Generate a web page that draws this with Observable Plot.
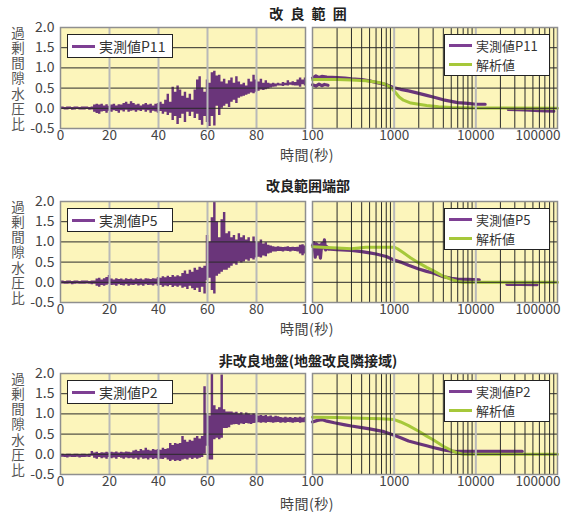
<!DOCTYPE html>
<html><head><meta charset="utf-8">
<script src="https://cdn.jsdelivr.net/npm/d3@7"></script>
<script src="https://cdn.jsdelivr.net/npm/@observablehq/plot@0.6"></script>
<style>
body{margin:0;background:#fff;}
#root{position:relative;width:575px;height:512px;overflow:hidden;font-family:"Noto Sans CJK JP",sans-serif;}
.pl{position:absolute;}
.title{position:absolute;font-weight:700;font-size:14px;color:#222;white-space:nowrap;transform:translateX(-50%);line-height:14px;}
.xlab{position:absolute;font-size:14px;color:#444;white-space:nowrap;transform:translateX(-50%);line-height:14px;letter-spacing:0.5px;}
.ylab{position:absolute;writing-mode:vertical-rl;text-orientation:upright;font-size:13.5px;letter-spacing:1.7px;color:#555;line-height:14px;}
.legend{position:absolute;background:#fff;border:1.5px solid #222;box-sizing:border-box;padding:0 4px;}
.legrow{display:flex;align-items:center;font-size:13px;line-height:15px;color:#333;white-space:nowrap;}
.sw{display:inline-block;width:23px;height:3px;margin-right:4px;}
</style></head>
<body><div id="root"></div>
<script>
// ---------- data ----------
const secs = d3.range(0, 101); // 0..100 s (time axis of left panels)
const lo1 = [-0.04,-0.03,-0.04,-0.04,-0.03,-0.05,-0.04,-0.03,-0.04,-0.04,
 -0.04,-0.03,-0.05,-0.04,-0.10,-0.13,-0.15,-0.09,-0.08,-0.12,
 -0.07,-0.10,-0.06,-0.08,-0.12,-0.06,-0.09,-0.05,-0.10,-0.07,
 -0.06,-0.10,-0.06,-0.08,-0.05,-0.10,-0.06,-0.12,-0.07,-0.09,
 -0.12,-0.08,-0.15,-0.10,-0.18,-0.12,-0.30,-0.20,-0.40,-0.25,
 -0.15,-0.35,-0.10,-0.20,-0.10,-0.25,-0.15,-0.30,-0.42,-0.20,
 -0.35,-0.45,-0.20,-0.44,0.05,-0.18,0.00,0.05,0.10,0.02,
 0.15,0.20,0.12,0.25,0.28,0.30,0.32,0.35,0.38,0.36,
 0.40,0.42,0.45,0.44,0.46,0.48,0.50,0.52,0.53,0.55,
 0.55,0.54,0.56,0.55,0.57,0.56,0.55,0.55,0.52,0.58,0.55];
const hi1 = [0.03,0.03,0.02,0.03,0.03,0.02,0.03,0.03,0.02,0.03,
 0.03,0.03,0.02,0.03,0.08,0.10,0.08,0.10,0.06,0.09,
 0.05,0.08,0.10,0.06,0.09,0.08,0.12,0.15,0.10,0.16,
 0.12,0.08,0.10,0.06,0.09,0.12,0.08,0.10,0.06,0.10,
 0.12,0.15,0.10,0.20,0.35,0.15,0.52,0.40,0.55,0.45,
 0.30,0.40,0.25,0.35,0.20,0.45,0.70,0.78,0.50,0.40,
 0.70,0.62,0.88,0.92,0.80,0.82,0.65,0.72,0.60,0.68,
 0.75,0.62,0.78,0.65,0.58,0.62,0.55,0.72,0.65,0.82,
 0.70,0.65,0.72,0.62,0.68,0.62,0.60,0.62,0.60,0.62,
 0.60,0.64,0.62,0.68,0.63,0.66,0.64,0.70,0.75,0.70,0.75];
const lo2 = [-0.05,-0.04,-0.05,-0.05,-0.04,-0.06,-0.05,-0.04,-0.05,-0.05,
 -0.05,-0.04,-0.05,-0.06,-0.05,-0.10,-0.12,-0.08,-0.10,-0.07,
 -0.05,-0.08,-0.07,-0.10,-0.06,-0.08,-0.09,-0.06,-0.10,-0.07,
 -0.08,-0.06,-0.09,-0.07,-0.10,-0.06,-0.08,-0.07,-0.09,-0.06,
 -0.10,-0.08,-0.12,-0.09,-0.11,-0.08,-0.13,-0.10,-0.12,-0.09,
 -0.15,-0.12,-0.18,-0.10,-0.16,-0.20,-0.15,-0.25,-0.12,-0.29,
 0.04,0.10,-0.20,-0.29,0.15,0.20,0.25,0.30,0.30,0.35,
 0.40,0.45,0.42,0.50,0.48,0.50,0.55,0.52,0.58,0.55,
 0.60,0.62,0.60,0.65,0.63,0.70,0.72,0.75,0.75,0.76,
 0.76,0.75,0.77,0.76,0.75,0.77,0.76,0.75,0.70,0.66,0.70];
const hi2 = [0.03,0.03,0.02,0.03,0.03,0.02,0.03,0.03,0.02,0.03,
 0.03,0.03,0.02,0.03,0.03,0.08,0.10,0.06,0.09,0.12,
 0.17,0.08,0.06,0.09,0.07,0.08,0.06,0.09,0.07,0.08,
 0.06,0.09,0.07,0.08,0.06,0.09,0.08,0.07,0.09,0.08,
 0.12,0.10,0.14,0.11,0.15,0.12,0.17,0.13,0.16,0.14,
 0.22,0.28,0.20,0.30,0.25,0.35,0.30,0.37,0.35,0.40,
 1.16,1.00,1.60,2.00,1.50,1.10,1.55,1.73,1.20,1.25,
 1.10,1.16,1.05,1.20,1.10,1.15,1.05,1.10,1.00,1.12,
 1.00,0.98,1.05,0.95,0.98,0.92,0.90,0.88,0.87,0.88,
 0.87,0.86,0.87,0.88,0.86,0.87,0.86,0.87,0.92,0.93,0.90];
const lo3 = [-0.08,-0.07,-0.08,-0.09,-0.07,-0.08,-0.08,-0.07,-0.09,-0.08,
 -0.08,-0.07,-0.08,-0.05,-0.10,-0.12,-0.08,-0.11,-0.09,-0.12,
 -0.08,-0.11,-0.09,-0.12,-0.08,-0.10,-0.12,-0.09,-0.11,-0.10,
 -0.12,-0.10,-0.14,-0.09,-0.12,-0.11,-0.14,-0.10,-0.13,-0.11,
 -0.14,-0.12,-0.13,-0.10,-0.14,-0.18,-0.15,-0.18,-0.16,-0.18,
 -0.14,-0.12,-0.14,-0.10,-0.13,-0.10,-0.12,-0.10,-0.08,0.00,
 0.20,-0.14,-0.14,0.36,0.40,0.36,0.40,0.64,0.64,0.66,
 0.72,0.73,0.74,0.72,0.75,0.74,0.76,0.75,0.74,0.76,
 0.77,0.78,0.77,0.78,0.77,0.79,0.78,0.77,0.78,0.79,
 0.77,0.78,0.77,0.79,0.78,0.77,0.78,0.79,0.77,0.78,0.78];
const hi3 = [0.00,0.00,-0.01,0.00,0.00,-0.01,0.00,0.00,-0.01,0.00,
 0.00,-0.01,0.00,0.07,0.03,0.05,0.02,0.04,0.03,0.05,
 0.03,0.05,0.04,0.06,0.03,0.05,0.04,0.06,0.05,0.04,
 0.08,0.10,0.07,0.12,0.09,0.15,0.10,0.08,0.12,0.10,
 0.12,0.10,0.15,0.12,0.14,0.27,0.22,0.27,0.25,0.27,
 0.44,0.35,0.30,0.35,0.32,0.40,0.44,0.38,0.44,1.67,
 1.00,0.95,2.00,1.20,1.10,1.15,1.96,1.10,1.05,1.05,
 1.05,1.02,1.04,1.00,1.03,0.98,1.02,1.00,0.97,1.00,
 0.97,0.95,0.96,0.94,0.96,0.93,0.95,0.92,0.94,0.93,
 0.91,0.90,0.92,0.90,0.91,0.89,0.91,0.90,0.92,0.90,0.91];

// right panels (log time, s)
const mT1 = [100,110,120,130,150,200,250,300,400,500,600,700,800,1000,1200,1500,2000,2500,3000,4000,5000,6000,8000,10000,13000];
const mV1 = [0.75,0.80,0.76,0.79,0.77,0.76,0.75,0.73,0.71,0.68,0.64,0.61,0.58,0.51,0.47,0.43,0.37,0.32,0.28,0.21,0.17,0.14,0.12,0.10,0.10];
const mT1b = [100,110,120,130,140,155];
const mV1b = [0.58,0.55,0.60,0.56,0.59,0.57];
const mT1c = [25000,40000,60000,90000];
const mV1c = [-0.03,-0.04,-0.06,-0.07];
const aT1 = [100,200,300,450,600,750,850,950,1050,1150,1300,1600,2000,2500,3500,5000,10000,100000];
const aV1 = [0.71,0.71,0.70,0.68,0.65,0.61,0.55,0.48,0.38,0.28,0.20,0.13,0.10,0.07,0.04,0.02,0.01,0.00];

const mT2 = [100,104,108,112,116,120,125,130,135,140,145,150,158,165,200,300,400,500,600,800,1000,1200,1500,2000,2500,3000,4000,5000,6000,8000,11000];
const mV2 = [0.90,0.98,0.62,0.95,0.70,0.92,0.60,0.96,0.85,1.05,0.80,0.88,0.82,0.82,0.81,0.79,0.76,0.73,0.70,0.64,0.55,0.50,0.42,0.33,0.27,0.23,0.14,0.10,0.08,0.07,0.06];
const mT2c = [24000,35000,56000];
const mV2c = [-0.05,-0.05,-0.06];
const aT2 = [100,200,300,450,700,1000,1100,1300,1600,2000,2500,3000,4000,5000,6000,7000,100000];
const aV2 = [0.88,0.85,0.83,0.87,0.87,0.87,0.83,0.73,0.60,0.48,0.37,0.29,0.15,0.07,0.02,0.00,0.00];

const mT3 = [100,115,130,150,185,250,300,400,500,600,750,1000,1200,1500,2000,2500,3000,4000,5000,6000,8000,10000,20000,37000];
const mV3 = [0.80,0.84,0.86,0.82,0.78,0.73,0.70,0.66,0.63,0.60,0.56,0.47,0.41,0.33,0.26,0.21,0.17,0.11,0.08,0.07,0.07,0.07,0.07,0.07];
const aT3 = [100,200,400,700,1000,1200,1500,2000,2500,3000,4000,5000,6000,7000,100000];
const aV3 = [0.92,0.91,0.89,0.88,0.86,0.80,0.71,0.57,0.45,0.36,0.20,0.10,0.03,0.00,0.00];

const titles = ["改 良 範 囲", "改良範囲端部", "非改良地盤(地盤改良隣接域)"];
const legendNames = ["実測値P11", "実測値P5", "実測値P2"];
const analysisName = "解析値";
const xTicksLin = [0,20,40,60,80];
const xTicksLog = [100,1000,10000];
const xTickLogLast = [100000];
const yTicks = [-0.5,0,0.5,1,1.5,2];
const yGrid = [0,0.5,1,1.5];
const xGridLin = [20,40,60,80];
const xGridLogMajor = [1000,10000];
const xGridLogMinor = [200,300,400,500,600,700,800,900,2000,3000,4000,5000,6000,7000,8000,9000,20000,30000,40000,50000,60000,70000,80000,90000];

// ---------- style ----------
const BG = "#fcf5bb", PURPLE = "#6a357a", PURPLE_L = "#7e3f93", GREEN = "#a6c83a";
const GRAY = "#b9b9b9", BLACK = "#2a2a2a", FRAME = "#8f8f8f", TXT = "#444";
const rowTop = [27, 201, 373];
const H = 101, MT = 8, MB = 24;
const root = document.getElementById("root");
const baseStyle = {background: "transparent", overflow: "visible", fontFamily: "'Noto Sans CJK JP', sans-serif"};

function place(el, left, top) { el.classList.add("pl"); el.style.left = left + "px"; el.style.top = top + "px"; root.appendChild(el); }

function leftPlot(lo, hi) {
  return Plot.plot({
    width: 320, height: H + MT + MB, marginLeft: 60, marginRight: 15, marginTop: MT, marginBottom: MB,
    style: baseStyle,
    x: {domain: [0, 100], axis: null},
    y: {domain: [-0.5, 2], axis: null},
    marks: [
      Plot.frame({fill: BG, stroke: null}),
      Plot.areaY(secs, {x: d => d, y1: lo, y2: hi, curve: "step", fill: PURPLE}),
      Plot.ruleY(yGrid, {stroke: BLACK, strokeWidth: 1}),
      Plot.ruleX(xGridLin, {stroke: GRAY, strokeWidth: 2}),
      Plot.frame({stroke: FRAME, strokeWidth: 1.5}),
      Plot.text(xTicksLin, {x: d => d, frameAnchor: "bottom", dy: 11, text: d => String(d), fontSize: 13.5, fill: TXT}),
      Plot.text(yTicks, {y: d => d, frameAnchor: "left", textAnchor: "end", dx: -6, text: d => d.toFixed(1), fontSize: 14, fill: TXT})
    ]
  });
}

function rightPlot(lines, analysis) {
  const marks = [Plot.frame({fill: BG, stroke: null})];
  for (const [t, v] of lines) marks.push(Plot.line(t, {x: d => d, y: v, stroke: PURPLE, strokeWidth: 3.2}));
  marks.push(Plot.line(analysis[0], {x: d => d, y: analysis[1], stroke: GREEN, strokeWidth: 3}));
  marks.push(
    Plot.ruleY(yGrid, {stroke: BLACK, strokeWidth: 1}),
    Plot.ruleX(xGridLogMinor, {stroke: BLACK, strokeWidth: 1}),
    Plot.ruleX(xGridLogMajor, {stroke: GRAY, strokeWidth: 2}),
    Plot.frame({stroke: FRAME, strokeWidth: 1.5}),
    Plot.text(xTicksLog, {x: d => d, frameAnchor: "bottom", dy: 11, text: d => String(d), fontSize: 13.5, fill: TXT}),
    Plot.text(xTickLogLast, {x: d => d, frameAnchor: "bottom", dy: 11, dx: 3, textAnchor: "end", text: d => String(d), fontSize: 13.5, fill: TXT})
  );
  return Plot.plot({
    width: 275, height: H + MT + MB, marginLeft: 12, marginRight: 18, marginTop: MT, marginBottom: MB,
    style: baseStyle,
    x: {type: "log", domain: [100, 100000], axis: null},
    y: {domain: [-0.5, 2], axis: null},
    marks
  });
}

const lows = [lo1, lo2, lo3], highs = [hi1, hi2, hi3];
const rightLines = [
  [[mT1, mV1], [mT1b, mV1b], [mT1c, mV1c]],
  [[mT2, mV2], [mT2c, mV2c]],
  [[mT3, mV3]]
];
const analyses = [[aT1, aV1], [aT2, aV2], [aT3, aV3]];
const titleY = [6, 178, 353];
const xlabY = [147, 321, 496];
const ylabTop = [26, 200, 372];

for (let r = 0; r < 3; r++) {
  const T = rowTop[r];
  place(leftPlot(lows[r], highs[r]), 0, T - MT);
  place(rightPlot(rightLines[r], analyses[r]), 300, T - MT);

  const tt = document.createElement("div"); tt.className = "title"; tt.textContent = titles[r];
  tt.style.left = "308px"; tt.style.top = titleY[r] + "px";
  if (r === 0) tt.style.wordSpacing = "4px";
  root.appendChild(tt);

  const xl = document.createElement("div"); xl.className = "xlab"; xl.textContent = "時間(秒)";
  xl.style.left = "307px"; xl.style.top = xlabY[r] + "px"; root.appendChild(xl);

  const yl = document.createElement("div"); yl.className = "ylab"; yl.textContent = "過剰間隙水圧比";
  yl.style.left = "11px"; yl.style.top = ylabTop[r] + "px"; root.appendChild(yl);

  // left legend
  const lg = document.createElement("div"); lg.className = "legend";
  Object.assign(lg.style, {left: "67px", top: (T + 7) + "px", width: "106px", height: "24px", display: "flex", alignItems: "center"});
  lg.innerHTML = `<div class="legrow" style="font-size:14px">` +
                 `<span class="sw" style="background:${PURPLE_L}"></span>${legendNames[r]}</div>`;
  root.appendChild(lg);

  // right legend
  const rg = document.createElement("div"); rg.className = "legend";
  Object.assign(rg.style, {left: "444px", top: (T + 7) + "px", width: "106px", height: "42px", display: "flex", flexDirection: "column", justifyContent: "center"});
  rg.innerHTML = `<div class="legrow" style="height:19px"><span class="sw" style="background:${PURPLE_L}"></span>${legendNames[r]}</div>` +
                 `<div class="legrow" style="height:19px"><span class="sw" style="background:${GREEN}"></span>${analysisName}</div>`;
  root.appendChild(rg);
}
</script></body></html>
